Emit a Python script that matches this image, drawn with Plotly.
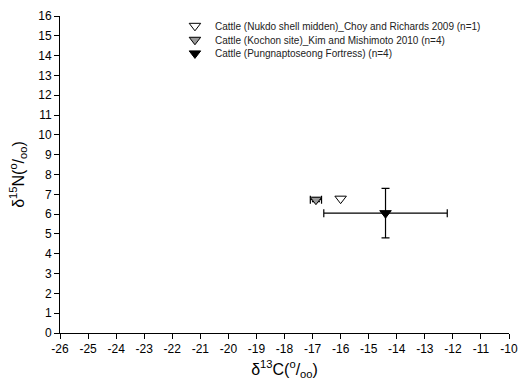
import plotly.graph_objects as go

# Data
series_names = [
    "Cattle (Nukdo shell midden)_Choy and Richards 2009 (n=1)",
    "Cattle (Kochon site)_Kim and Mishimoto 2010 (n=4)",
    "Cattle (Pungnaptoseong Fortress) (n=4)",
]
d13C = [-16.0, -16.88, -14.4]
d15N = [6.78, 6.73, 6.05]
d13C_sd = [None, 0.2, 2.2]
d15N_sd = [None, 0.1, 1.25]
fill_colors = ["white", "#9a9a9a", "black"]

x_ticks = list(range(-26, -9))
y_ticks = list(range(0, 17))

legend_ids = ["legend", "legend2", "legend3"]
legend_y = [0.969, 0.925, 0.882]

fig = go.Figure()
for i, name in enumerate(series_names):
    kw = {}
    if d13C_sd[i] is not None:
        kw["error_x"] = dict(type="data", array=[d13C_sd[i]], color="black", thickness=1.2, width=4)
        kw["error_y"] = dict(type="data", array=[d15N_sd[i]], color="black", thickness=1.2, width=4)
    fig.add_trace(go.Scatter(
        x=[d13C[i]], y=[d15N[i]], mode="markers", name=name, legend=legend_ids[i],
        marker=dict(symbol="triangle-down", size=10, color=fill_colors[i],
                    line=dict(color="black", width=1)),
        **kw))

axis_common = dict(showgrid=False, zeroline=False, showline=True, linecolor="black",
                   linewidth=1, ticks="outside", ticklen=5, tickcolor="black",
                   tickfont=dict(family="Liberation Sans, Arial", size=12, color="black"),
                   mirror=False, automargin=False)

leg_common = dict(x=0.256, xanchor="left", yanchor="middle", bgcolor="rgba(0,0,0,0)",
                  font=dict(size=10, color="#222"), itemwidth=30)

fig.update_layout(
    width=527, height=390,
    margin=dict(l=60, r=18, t=11, b=57),
    paper_bgcolor="white", plot_bgcolor="white",
    font=dict(family="Liberation Sans, Arial", color="black"),
    xaxis=dict(range=[-26, -10], tickvals=x_ticks, ticktext=[str(v) for v in x_ticks],
               title=dict(text="δ<sup>13</sup>C(<sup>o</sup>/<sub>oo</sub>)", font=dict(size=16), standoff=8),
               **axis_common),
    yaxis=dict(range=[0, 16], tickvals=y_ticks, ticktext=[str(v) for v in y_ticks],
               title=dict(text="δ<sup>15</sup>N(<sup>o</sup>/<sub>oo</sub>)", font=dict(size=16), standoff=9),
               **axis_common),
    legend=dict(y=legend_y[0], **leg_common),
    legend2=dict(y=legend_y[1], **leg_common),
    legend3=dict(y=legend_y[2], **leg_common),
    showlegend=True,
)

fig.write_html("out.html", config={"displayModeBar": False},
               post_script="document.body.style.margin='0';")
